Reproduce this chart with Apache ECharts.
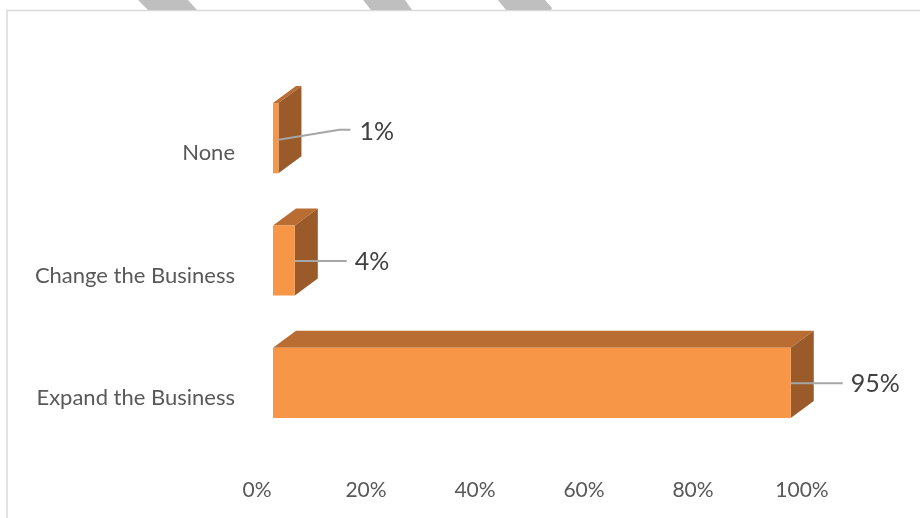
<!DOCTYPE html>
<html>
<head>
<meta charset="utf-8">
<script src="https://cdn.jsdelivr.net/npm/echarts@6/dist/echarts.min.js"></script>
<style>
  html, body { margin: 0; padding: 0; background: #ffffff; }
  #chart { width: 920px; height: 518px; }
</style>
</head>
<body>
<div id="chart"></div>
<script>
// Survey answers, bottom to top on the category axis
const categories = ['Expand the Business', 'Change the Business', 'None'];
// Share of respondents, in percent
const shares = [95, 4, 1];
// Value axis ticks (percent)
const tickValues = [0, 20, 40, 60, 80, 100];

const FONT = 'Lato, "Noto Sans", sans-serif';

// 3D box styling
const FRONT_SHIFT = 16;     // front face sits slightly right of the axis origin
const DEPTH_X = 23;         // depth offset of the box
const DEPTH_Y = -17;
const FRONT_COLOR = '#F79646';
const TOP_COLOR = '#B96D33';
const SIDE_COLOR = '#9A5A29';
const LEADER_COLOR = '#A6A6A6';

function renderBox(params, api) {
  const v = api.value(0);
  const idx = api.value(1);
  const base = api.coord([0, idx]);
  const end = api.coord([v, idx]);
  const band = api.size([0, 1])[1];
  const half = band * 0.287;
  const cy = base[1];
  const x0 = base[0] + FRONT_SHIFT;
  const x1 = end[0] + FRONT_SHIFT;
  const yt = cy - half;
  const yb = cy + half;

  const children = [
    {
      type: 'polygon',
      shape: { points: [[x0, yt], [x1, yt], [x1 + DEPTH_X, yt + DEPTH_Y], [x0 + DEPTH_X, yt + DEPTH_Y]] },
      style: { fill: TOP_COLOR }
    },
    {
      type: 'polygon',
      shape: { points: [[x1, yt], [x1 + DEPTH_X, yt + DEPTH_Y], [x1 + DEPTH_X, yb + DEPTH_Y], [x1, yb]] },
      style: { fill: SIDE_COLOR }
    },
    {
      type: 'rect',
      shape: { x: x0, y: yt, width: x1 - x0, height: yb - yt },
      style: { fill: FRONT_COLOR }
    }
  ];

  // Value label with a leader line; very thin boxes get a lifted elbow line
  const thin = (x1 - x0) < 10;
  let pts, tx, ty;
  if (thin) {
    pts = [[x1, cy + 1.5], [x1 + 61, cy - 8.5], [x1 + 72, cy - 8.5]];
    tx = x1 + 81; ty = cy - 6.5;
  } else {
    pts = [[x1, cy + 0.5], [x1 + 52, cy + 0.5]];
    tx = x1 + 60; ty = cy + 1.5;
  }
  children.push({
    type: 'polyline',
    shape: { points: pts },
    style: { stroke: LEADER_COLOR, lineWidth: 2, fill: null }
  });
  children.push({
    type: 'text',
    style: {
      x: tx, y: ty,
      text: v + '%',
      fill: '#404040',
      font: '25px ' + FONT,
      textAlign: 'left',
      textVerticalAlign: 'middle'
    }
  });
  return { type: 'group', children: children };
}

const chart = echarts.init(document.getElementById('chart'), null, { renderer: 'canvas' });

chart.setOption({
  backgroundColor: '#ffffff',
  animation: false,
  graphic: [
    // chart frame
    {
      type: 'rect',
      shape: { x: 7, y: 10.5, width: 940, height: 540 },
      style: { fill: null, stroke: '#D9D9D9', lineWidth: 1.5 },
      z: 0
    },
    // grey page stripes along the top edge
    { type: 'polygon', shape: { points: [[138, 0], [188, 0], [197, 10], [148, 10]] }, style: { fill: '#BFBFBF' } },
    { type: 'polygon', shape: { points: [[363, 0], [405, 0], [412, 10], [371, 10]] }, style: { fill: '#BFBFBF' } },
    { type: 'polygon', shape: { points: [[498, 0], [545, 0], [552, 8], [551, 10], [506, 10]] }, style: { fill: '#BFBFBF' } }
  ],
  grid: { left: 257, right: 118, top: 77, bottom: 74, containLabel: false },
  xAxis: {
    type: 'value',
    min: tickValues[0],
    max: tickValues[tickValues.length - 1],
    interval: tickValues[1] - tickValues[0],
    axisLine: { show: false },
    axisTick: { show: false },
    splitLine: { show: false },
    axisLabel: {
      margin: 36,
      color: '#595959',
      fontFamily: FONT,
      fontSize: 21,
      formatter: function (v) { return v + '%'; }
    }
  },
  yAxis: {
    type: 'category',
    data: categories,
    axisLine: { show: false },
    axisTick: { show: false },
    splitLine: { show: false },
    axisLabel: {
      margin: 22,
      color: '#595959',
      fontFamily: FONT,
      fontSize: 22,
      verticalAlign: 'top',
      lineHeight: 30
    }
  },
  series: [{
    type: 'custom',
    renderItem: renderBox,
    encode: { x: 0, y: 1 },
    data: shares.map(function (v, i) { return [v, i]; }),
    clip: false
  }]
});
</script>
</body>
</html>
